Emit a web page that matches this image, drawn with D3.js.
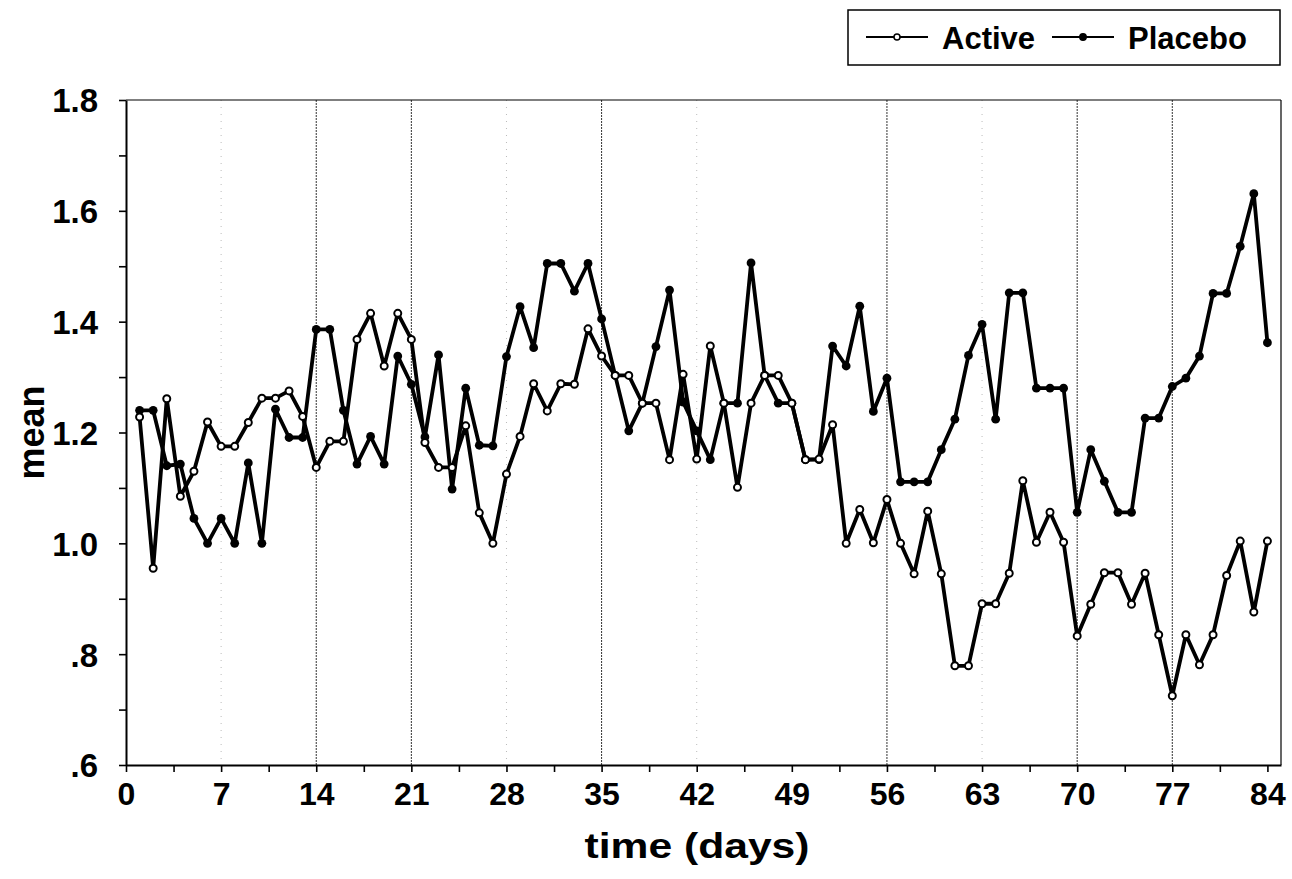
<!DOCTYPE html>
<html><head><meta charset="utf-8">
<script src="https://cdn.jsdelivr.net/npm/d3@7"></script>
<style>
body{margin:0;background:#fff}
text{font-family:"Liberation Sans",Arial,Helvetica,sans-serif;font-weight:bold;fill:#000}
</style>
</head><body>
<svg id="chart" width="1292" height="879"></svg>
<script>
// ---- data ----
const days = d3.range(1, 85);
const active = [1.228,0.955,1.261,1.085,1.130,1.219,1.175,1.175,1.218,1.262,
1.262,1.275,1.229,1.137,1.184,1.184,1.368,1.415,1.320,1.415,
1.368,1.182,1.137,1.137,1.212,1.055,1.000,1.125,1.193,1.288,
1.239,1.288,1.287,1.387,1.338,1.303,1.303,1.253,1.253,1.151,
1.305,1.152,1.356,1.253,1.101,1.253,1.303,1.303,1.253,1.151,
1.152,1.214,1.000,1.061,1.001,1.079,1.000,0.945,1.058,0.945,
0.779,0.779,0.891,0.891,0.946,1.113,1.002,1.056,1.002,0.833,
0.890,0.947,0.947,0.890,0.946,0.835,0.725,0.835,0.781,0.835,
0.942,1.004,0.876,1.004];
const placebo = [1.240,1.240,1.140,1.143,1.045,1.000,1.045,1.000,1.145,1.000,
1.242,1.191,1.191,1.386,1.386,1.240,1.143,1.193,1.143,1.338,
1.287,1.192,1.340,1.098,1.280,1.177,1.176,1.337,1.427,1.353,
1.505,1.505,1.455,1.505,1.405,1.303,1.203,1.253,1.355,1.457,
1.255,1.203,1.151,1.253,1.253,1.506,1.303,1.253,1.253,1.151,
1.151,1.356,1.320,1.428,1.238,1.298,1.111,1.111,1.111,1.169,
1.224,1.339,1.395,1.224,1.452,1.452,1.280,1.280,1.280,1.056,
1.169,1.112,1.056,1.056,1.226,1.226,1.283,1.298,1.338,1.451,
1.451,1.536,1.631,1.362];
const xTickValues = [0,3.5,7,10.5,14,17.5,21,24.5,28,31.5,35,38.5,42,45.5,49,52.5,56,59.5,63,66.5,70,73.5,77,80.5,84];
const xTickLabels = ["0","7","14","21","28","35","42","49","56","63","70","77","84"];
const yTickValues = [0.6,0.7,0.8,0.9,1.0,1.1,1.2,1.3,1.4,1.5,1.6,1.7,1.8];
const yTickLabels = [".6",".8","1.0","1.2","1.4","1.6","1.8"];
const refDays = [14,21,35,56,70,77];
const faintDays = [7,28,42,63];
const seriesNames = ["Active","Placebo"];

// ---- layout ----
const svg = d3.select("#chart");
const X0 = 126, X1 = 1281, Y0 = 765, Y1 = 100;
const x = d3.scaleLinear().domain([0, 85]).range([X0, X1]);
const y = d3.scaleLinear().domain([0.6, 1.8]).range([Y0, Y1]);

// faint dotted guides
svg.append("g").selectAll("line").data(faintDays).join("line")
  .attr("x1", d => x(d)).attr("x2", d => x(d)).attr("y1", Y1).attr("y2", Y0)
  .attr("stroke", "#bbb").attr("stroke-width", 1).attr("stroke-dasharray", "1,6");

// reference lines
svg.append("g").selectAll("line").data(refDays).join("line")
  .attr("x1", d => x(d)).attr("x2", d => x(d)).attr("y1", Y1).attr("y2", Y0)
  .attr("stroke", "#333").attr("stroke-width", 1).attr("stroke-dasharray", "2,1");

// frame top & right
svg.append("line").attr("x1", X0).attr("x2", X1).attr("y1", Y1).attr("y2", Y1)
  .attr("stroke", "#000").attr("stroke-width", 1.2);
svg.append("line").attr("x1", X1).attr("x2", X1).attr("y1", Y1).attr("y2", Y0)
  .attr("stroke", "#000").attr("stroke-width", 1.2);

// axes
const yAxis = d3.axisLeft(y).tickValues(yTickValues).tickSize(7).tickSizeOuter(0)
  .tickFormat((v) => { const i = yTickValues.indexOf(v); return i % 2 === 0 ? yTickLabels[i/2] : ""; });
const gy = svg.append("g").attr("transform", `translate(${X0},0)`).call(yAxis);
gy.select(".domain").attr("stroke-width", 2);
gy.selectAll(".tick line").attr("stroke-width", 1.6);
gy.selectAll("text").attr("font-size", 33).attr("x", -28).attr("dy", "0.36em");

const xAxis = d3.axisBottom(x).tickValues(xTickValues).tickSize(7).tickSizeOuter(0)
  .tickFormat((v) => { const i = xTickValues.indexOf(v); return i % 2 === 0 ? xTickLabels[i/2] : ""; });
const gx = svg.append("g").attr("transform", `translate(0,${Y0})`).call(xAxis);
gx.select(".domain").attr("stroke-width", 2);
gx.selectAll(".tick line").attr("stroke-width", 1.6);
gx.selectAll("text").attr("font-size", 32).attr("y", 17).attr("dy", "0.71em");

// axis titles
svg.append("text").attr("x", 697).attr("y", 858)
  .attr("text-anchor", "middle").attr("font-size", 35)
  .attr("textLength", 225).attr("lengthAdjust", "spacingAndGlyphs").text("time (days)");
svg.append("text").attr("transform", `translate(44,${(Y0+Y1)/2}) rotate(-90)`)
  .attr("text-anchor", "middle").attr("font-size", 36).text("mean");

// series
const line = d3.line().x((d, i) => x(days[i])).y(d => y(d));
svg.append("path").datum(active).attr("d", line)
  .attr("fill", "none").attr("stroke", "#000").attr("stroke-width", 3.8).attr("stroke-linejoin", "round");
svg.append("path").datum(placebo).attr("d", line)
  .attr("fill", "none").attr("stroke", "#000").attr("stroke-width", 3.8).attr("stroke-linejoin", "round");

svg.append("g").selectAll("circle").data(placebo).join("circle")
  .attr("cx", (d, i) => x(days[i])).attr("cy", d => y(d)).attr("r", 4.4).attr("fill", "#000");
svg.append("g").selectAll("circle").data(active).join("circle")
  .attr("cx", (d, i) => x(days[i])).attr("cy", d => y(d)).attr("r", 3.5)
  .attr("fill", "#fff").attr("stroke", "#000").attr("stroke-width", 2);

// legend
const lg = svg.append("g");
lg.append("rect").attr("x", 848).attr("y", 10).attr("width", 432).attr("height", 55)
  .attr("fill", "#fff").attr("stroke", "#000").attr("stroke-width", 1.5);
const items = [
  {name: seriesNames[0], x0: 866, open: true, tx: 942},
  {name: seriesNames[1], x0: 1052, open: false, tx: 1128}
];
items.forEach(it => {
  lg.append("line").attr("x1", it.x0).attr("x2", it.x0 + 62).attr("y1", 37).attr("y2", 37)
    .attr("stroke", "#000").attr("stroke-width", 2);
  lg.append("circle").attr("cx", it.x0 + 31).attr("cy", 37).attr("r", it.open ? 3 : 3.2)
    .attr("fill", it.open ? "#fff" : "#000").attr("stroke", "#000").attr("stroke-width", 1.5);
  lg.append("text").attr("x", it.tx).attr("y", 49).attr("font-size", 31).text(it.name);
});
</script>
</body></html>
